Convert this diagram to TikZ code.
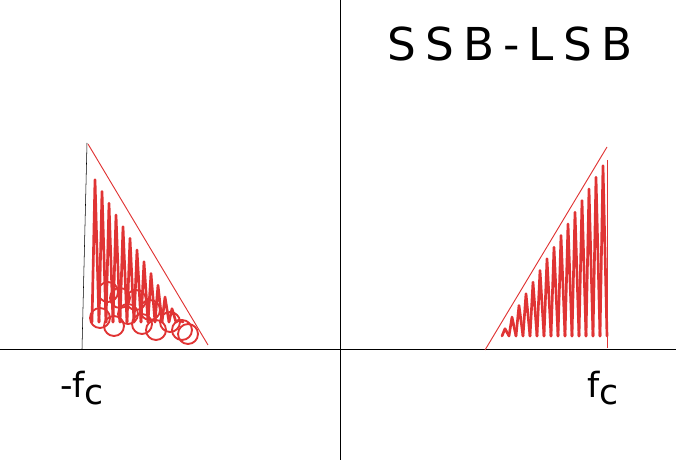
\documentclass[tikz,border=0pt]{standalone}
\usepackage{fontspec}
\setsansfont{DejaVu Sans}
\newfontfamily\sketchfont[LetterSpace=20]{DejaVu Sans}
\begin{document}
\begin{tikzpicture}[x=0.75pt,y=-0.75pt]
        % Define colors
        \definecolor{inkred}{RGB}{224,52,52}
        \tikzset{
            scribble/.style={inkred, line width=2pt, line cap=round, line join=round},
            loopink/.style={inkred, line width=1.4pt},
            edge/.style={inkred, line width=0.7pt},
            label/.style={font=\sffamily\fontsize{26}{28}\selectfont}
        }
        \useasboundingbox (0,0) rectangle (676,460);

        % Draw axes
        \draw (0,349) -- (676,349);
        \draw (340,0) -- (340,460);

        % Lower band at -fc
        \draw (82,349) -- (87,143);
        \draw[edge] (88,144) -- (208,345);
        \foreach \x in {92,99,...,176}
            \draw[scribble] (\x,322) -- ({\x+3},{min(320,144+1.675*(\x+3-88)+24)}) -- ({\x+7},322);
        \foreach \cx/\cy in {100/318,114/326,128/314,142/324,156/330,170/322,
                              182/330,188/334,120/298,136/300,108/292,150/310}
            \draw[loopink] (\cx,\cy) circle (10);

        % Upper band at fc
        \draw[edge] (485,350) -- (607,147);
        \draw[edge] (607,160) -- (607,348);
        \foreach \x in {502,509,...,600}
            \draw[scribble] (\x,336) -- ({\x+3},{350-1.664*(\x+3-485)+12}) -- ({\x+7},336);

        % Labels
        \node[font=\sketchfont\fontsize{34}{38}\selectfont] (title) at (510,44) {SSB-LSB};
        \node[label] (fneg) at (82,388) {-f\raisebox{-0.4ex}{c}};
        \node[label] (fpos) at (603,388) {f\raisebox{-0.4ex}{c}};
\end{tikzpicture}
\end{document}
